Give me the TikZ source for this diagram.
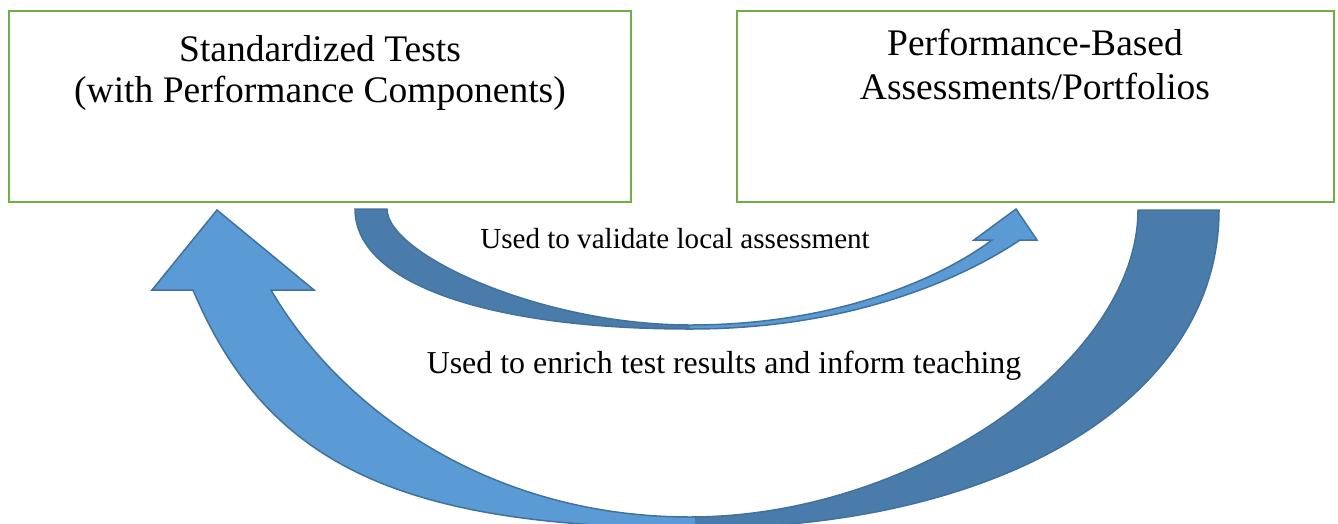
\documentclass[tikz,border=0pt]{standalone}
\usepackage{fontspec}
\setmainfont{Liberation Serif}
\definecolor{boxgreen}{HTML}{70AD47}
\definecolor{arrowlight}{HTML}{5B9BD5}
\definecolor{arrowdark}{HTML}{497CAA}
\definecolor{arrowline}{HTML}{41719C}
\begin{document}
\begin{tikzpicture}[x=1pt,y=-1pt,
  box/.style={draw=boxgreen, line width=2.6pt, inner sep=0pt, minimum height=191pt},
  boxtext/.style={font=\fontsize{37.5}{41}\selectfont, anchor=base, inner sep=0pt},
  lblA/.style={font=\fontsize{29.1}{34}\selectfont, anchor=base, inner sep=0pt},
  lblB/.style={font=\fontsize{31.9}{36}\selectfont, anchor=base, inner sep=0pt},
  arrowedge/.style={draw=arrowline, line width=1.5pt, line join=miter}
]
\useasboundingbox (0,0) rectangle (1338,523);
\clip (0,0) rectangle (1338,523);

% boxes
\node[box, minimum width=622pt] (std) at (320,106.5) {};
\node[box, minimum width=597pt] (pba) at (1035.5,106.5) {};
\node[boxtext] (std1) at (320,61) {Standardized Tests};
\node[boxtext] (std2) at (320,102) {(with Performance Components)};
\node[boxtext] (pba1) at (1035,55) {Performance-Based};
\node[boxtext] (pba2) at (1035,99) {Assessments/Portfolios};

% big arrow (enrich): from Performance-Based box back to Standardized Tests box
\path[save path=\pathbig] (217,210) -- (314,290) -- (271,290)
  .. controls (341,410) and (490,517) .. (690,517)
  .. controls (915,517) and (1138,360) .. (1138,210)
  -- (1219,210)
  .. controls (1219,400) and (1000,528) .. (700,528)
  .. controls (400,528) and (267,465) .. (193,290)
  -- (152,290) -- cycle;
\fill[arrowlight, use path=\pathbig];
\begin{scope}
  \clip (695,150) rectangle (1338,560);
  \fill[arrowdark, use path=\pathbig];
\end{scope}
\path[arrowedge, use path=\pathbig];

% upper arrow (validate): from Standardized Tests box to Performance-Based box
\path[save path=\pathsmall] (355,209) -- (387,209)
  .. controls (387,254) and (540,325) .. (690,325)
  .. controls (840,325) and (944,276) .. (992,240)
  -- (974,240) -- (1016,209) -- (1037,240) -- (1020,240)
  .. controls (962,279) and (850,329) .. (690,329)
  .. controls (490,329) and (355,284) .. (355,209)
  -- cycle;
\fill[arrowlight, use path=\pathsmall];
\begin{scope}
  \clip (0,150) rectangle (690,400);
  \fill[arrowdark, use path=\pathsmall];
\end{scope}
\path[arrowedge, use path=\pathsmall];

% labels
\node[lblA] (val) at (675,248) {Used to validate local assessment};
\node[lblB] (enr) at (724,373) {Used to enrich test results and inform teaching};
\end{tikzpicture}
\end{document}
